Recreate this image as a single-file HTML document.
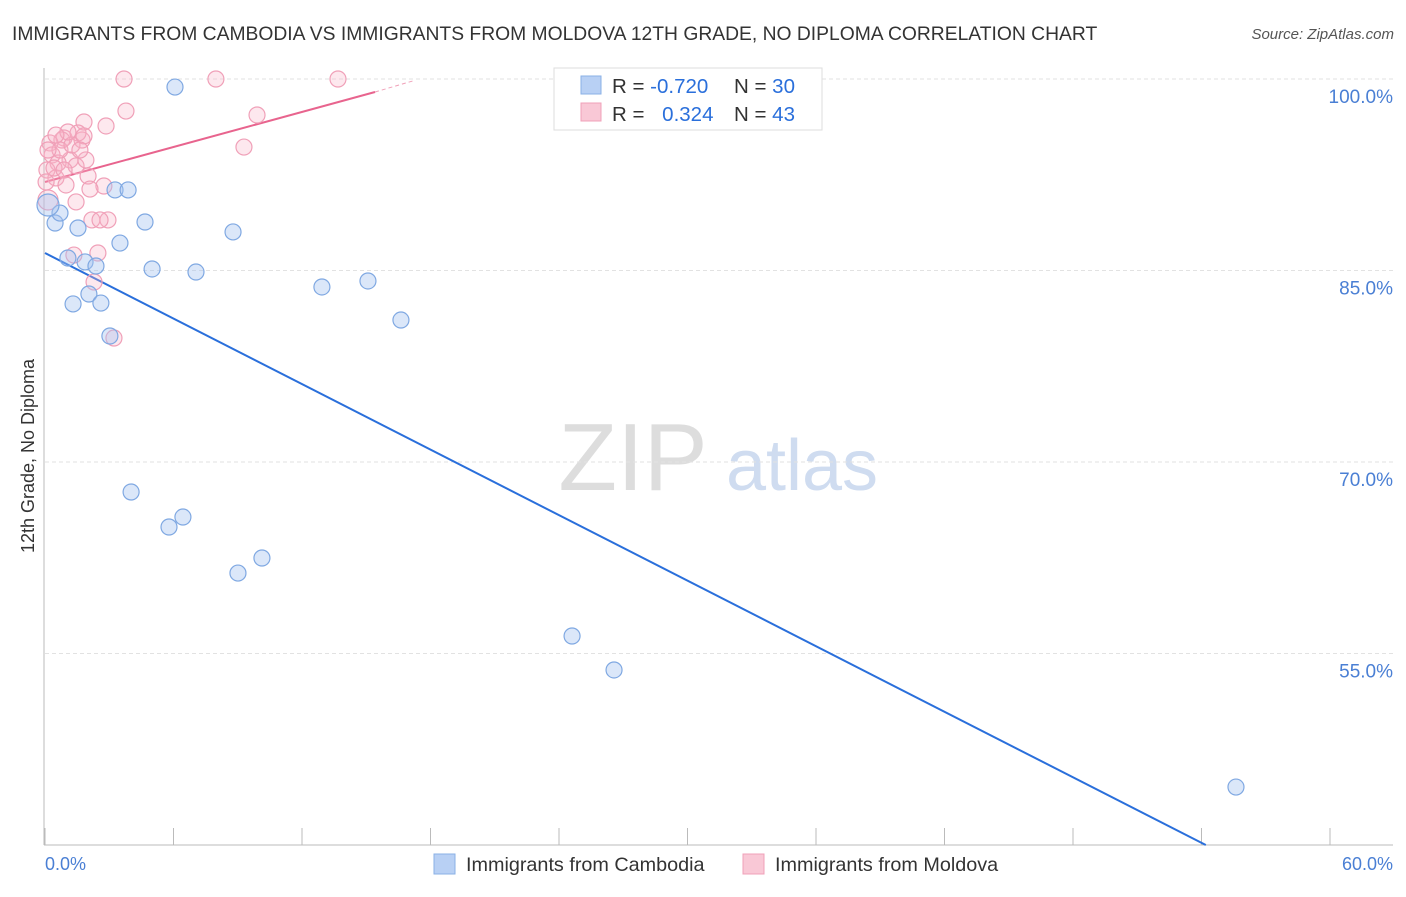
<!DOCTYPE html>
<html><head><meta charset="utf-8"><style>
body{margin:0;background:#fff;font-family:"Liberation Sans",sans-serif;}
svg text{font-family:"Liberation Sans",sans-serif;}
</style></head><body>
<svg id="chart" width="1406" height="892" xmlns="http://www.w3.org/2000/svg">
<text x="12" y="40" font-size="19.3" fill="#333">IMMIGRANTS FROM CAMBODIA VS IMMIGRANTS FROM MOLDOVA 12TH GRADE, NO DIPLOMA CORRELATION CHART</text>
<text x="1394" y="39" font-size="15" fill="#555" font-style="italic" text-anchor="end">Source: ZipAtlas.com</text>
<g>
<text x="633" y="490" font-size="96" fill="#ddd" font-family="Liberation Serif" text-anchor="middle">ZIP</text>
<text x="802" y="490" font-size="72" fill="#cfdcf0" text-anchor="middle">atlas</text>
</g>
<g id="grid"></g>
<g id="axes"></g>
<g id="trend"></g>
<g id="pts"></g>
<text transform="translate(34,456) rotate(-90)" font-size="18" fill="#333" text-anchor="middle">12th Grade, No Diploma</text>
<text x="45" y="870" font-size="18" fill="#4a7fd4">0.0%</text>
<text x="1393" y="870" font-size="18" fill="#4a7fd4" text-anchor="end">60.0%</text>
<g>
<rect x="554" y="68" width="268" height="62" fill="#fff" stroke="#ddd"/>
<rect x="581" y="76" width="20" height="18" fill="#b8d0f4" stroke="#8ab0e6"/>
<rect x="581" y="103" width="20" height="18" fill="#f9c8d6" stroke="#f0a0b8"/>
<text x="612" y="93" font-size="20.5" fill="#333">R = <tspan fill="#2a6fdb">-0.720</tspan></text>
<text x="734" y="93" font-size="20.5" fill="#333">N = <tspan fill="#2a6fdb">30</tspan></text>
<text x="612" y="121" font-size="20.5" fill="#333">R = <tspan fill="#2a6fdb" dx="12">0.324</tspan></text>
<text x="734" y="121" font-size="20.5" fill="#333">N = <tspan fill="#2a6fdb">43</tspan></text>
</g>
<g>
<rect x="434" y="854" width="21" height="20" fill="#b8d0f4" stroke="#8ab0e6"/>
<text x="466" y="871" font-size="19.8" fill="#333">Immigrants from Cambodia</text>
<rect x="743" y="854" width="21" height="20" fill="#f9c8d6" stroke="#f0a0b8"/>
<text x="775" y="871" font-size="19.8" fill="#333">Immigrants from Moldova</text>
</g>
</svg>
<script>
const yTicks=[100,85,70,55];
const yTickLabels=["100.0%","85.0%","70.0%","55.0%"];
const xTicks=[0,6,12,18,24,30,36,42,48,54,60];
const cambodiaX=[6.07,0.47,0.70,1.54,3.27,3.88,4.67,3.50,8.78,1.07,1.87,2.38,5.00,7.05,1.31,2.05,2.61,12.93,15.08,16.62,3.03,4.02,5.79,6.44,9.01,10.13,24.61,26.57,55.61,0.14];
const cambodiaY=[99.37,88.72,89.50,88.33,91.31,91.31,88.80,87.15,88.02,85.98,85.67,85.35,85.12,84.88,82.38,83.16,82.45,83.71,84.18,81.12,79.87,67.65,64.91,65.69,61.30,62.48,56.37,53.71,44.54,90.13];
const moldovaX=[3.69,7.98,13.68,3.78,1.82,9.90,2.85,0.89,1.73,1.54,0.79,0.23,9.29,0.33,1.17,0.61,1.45,0.09,2.01,0.51,0.98,2.75,2.10,1.45,2.19,2.94,2.47,1.35,2.29,3.22,0.70,1.26,1.91,0.42,0.89,0.05,2.57,1.07,1.82,0.14,0.51,1.63,0.14];
const moldovaY=[100,100,100,97.49,96.63,97.18,96.32,95.38,95.22,95.77,95.22,94.99,94.67,94.05,93.66,93.42,93.19,92.87,92.40,92.25,91.70,91.62,91.38,90.37,88.96,88.96,86.37,86.21,84.10,79.71,94.44,94.83,93.66,93.03,92.87,91.93,88.96,95.85,95.54,94.44,95.61,94.44,90.52];
const cambodiaTrendX=[0,54.2];
const cambodiaTrendY=[86.37,40];
const moldovaTrendX=[0,15.41];
const moldovaTrendY=[91.93,98.98];
const moldovaDashX=[15.41,17.28];
const moldovaDashY=[98.98,99.9];

const NS="http://www.w3.org/2000/svg";
const xs=v=>45+v/60*1285;
const ys=v=>79+(100-v)/15*191.5;
function mk(tag,attrs,parent){const e=document.createElementNS(NS,tag);for(const k in attrs)e.setAttribute(k,attrs[k]);parent.appendChild(e);return e;}
const grid=document.getElementById('grid'),axes=document.getElementById('axes'),trend=document.getElementById('trend'),pts=document.getElementById('pts');
yTicks.forEach((t,i)=>{
  const l=mk('line',{x1:45,x2:1393,y1:ys(t),y2:ys(t),stroke:'#e2e2e2','stroke-dasharray':'4,3'},grid);
  
  
  const tx=mk('text',{x:1393,y:ys(t)+24,'font-size':19,fill:'#4a7fd4','text-anchor':'end'},axes);
  tx.textContent=yTickLabels[i];
  
  
});
mk('line',{x1:44,x2:44,y1:68,y2:845,stroke:'#bbb'},axes);
mk('line',{x1:44,x2:1393,y1:845,y2:845,stroke:'#bbb'},axes);
xTicks.forEach(t=>{
  const l=mk('line',{x1:xs(t),x2:xs(t),y1:828,y2:845,stroke:'#bbb'},axes);
  
  
});
function pt(x,y,r,fill,stroke){
  return mk('circle',{cx:xs(x),cy:ys(y),r:r,fill:fill,stroke:stroke,'stroke-width':1.2},pts);
}
moldovaX.forEach((x,i)=>{
  const c=pt(x,moldovaY[i],i===moldovaX.length-1?10:8,'rgba(248,180,200,0.3)','#f0a0b8');
  
  
});
cambodiaX.forEach((x,i)=>{
  const c=pt(x,cambodiaY[i],i===cambodiaX.length-1?11:8,'rgba(164,196,240,0.4)','#7fa8e2');
  
  
});
const bl=mk('line',{x1:xs(cambodiaTrendX[0]),y1:ys(cambodiaTrendY[0]),x2:xs(cambodiaTrendX[1]),y2:ys(cambodiaTrendY[1]),stroke:'#2a6fdb','stroke-width':2},trend);


const pl=mk('line',{x1:xs(moldovaTrendX[0]),y1:ys(moldovaTrendY[0]),x2:xs(moldovaTrendX[1]),y2:ys(moldovaTrendY[1]),stroke:'#e8648e','stroke-width':2},trend);


const pd=mk('line',{x1:xs(moldovaDashX[0]),y1:ys(moldovaDashY[0]),x2:xs(moldovaDashX[1]),y2:ys(moldovaDashY[1]),stroke:'#f0a0b8','stroke-width':1,'stroke-dasharray':'4,3'},trend);


</script>
</body></html>
